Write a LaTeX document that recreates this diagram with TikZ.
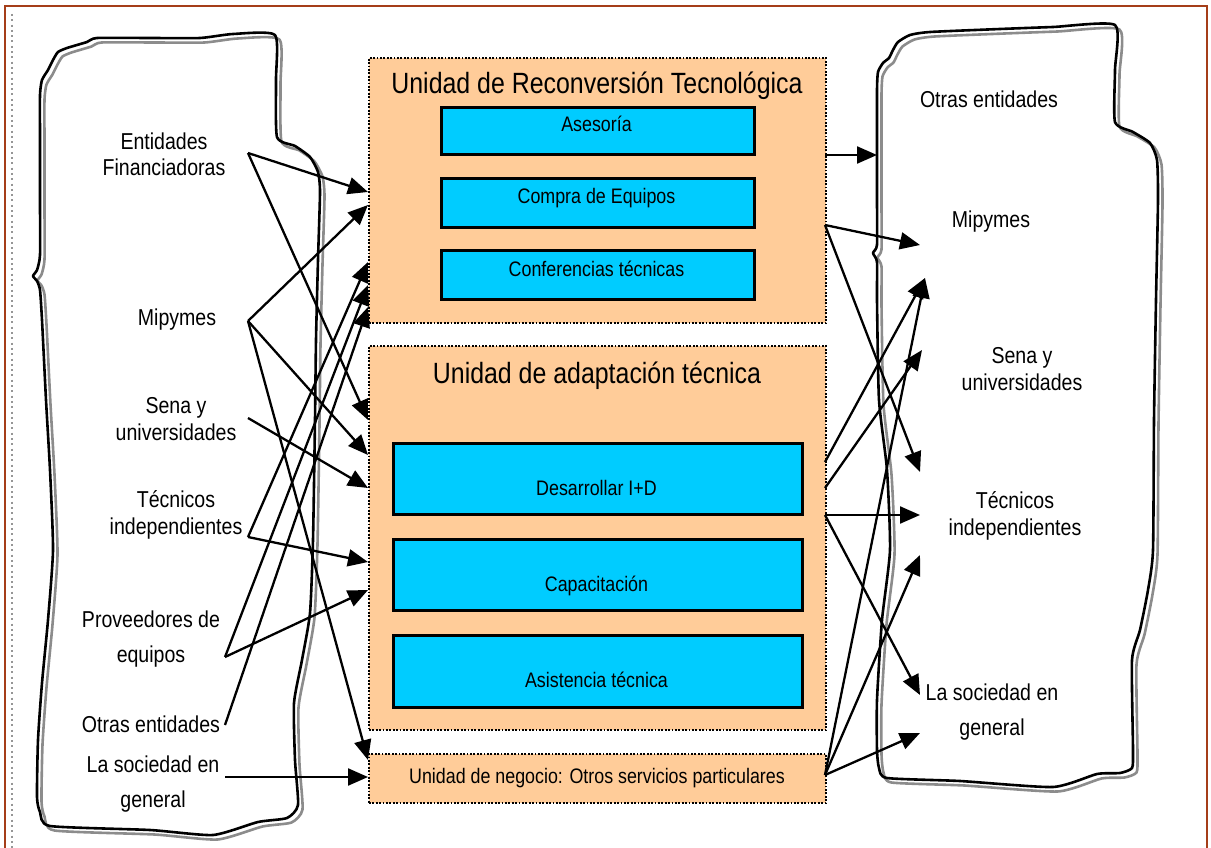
\documentclass[tikz,border=0pt]{standalone}
\usepackage{fontspec}
\setmainfont{Liberation Sans}[FakeStretch=0.85]
\usetikzlibrary{arrows.meta}
\definecolor{framebrown}{RGB}{165,62,25}
\definecolor{unitfill}{RGB}{255,204,153}
\definecolor{servblue}{RGB}{0,204,255}
\definecolor{shadowgrey}{RGB}{140,140,140}
\definecolor{dotgrey}{RGB}{150,150,150}
\begin{document}
\begin{tikzpicture}[x=1pt,y=-1pt,
  unit/.style={draw, dash pattern=on 1.8pt off 1.6pt, line width=2pt, fill=unitfill,
    inner sep=0pt, anchor=north west},
  serv/.style={draw, line width=2.8pt, fill=servblue, inner sep=0pt, anchor=north west},
  lbl/.style={font=\fontsize{23}{27}\selectfont, align=center, anchor=base, inner sep=0pt},
  lblwide/.style={font=\fontsize{23}{35}\selectfont, align=center, anchor=base, inner sep=0pt},
  small/.style={font=\fontsize{21}{25}\selectfont, anchor=base, inner sep=0pt},
  title/.style={font=\fontsize{29.3}{34}\selectfont, anchor=base, inner sep=0pt},
  flow/.style={line width=2.3pt, -{Triangle[length=20pt,width=17pt]}},
  outline/.style={line width=2.6pt, line join=round}]
\useasboundingbox (0,0) rectangle (1211,848);
\fill[white] (0,0) rectangle (1211,848);

% page frame and dotted margin rule
\draw[framebrown, line width=2.6pt] (5,6) rectangle (1207,852);
\draw[dotgrey, line width=2.2pt, dash pattern=on 2pt off 3.3pt] (12,14) -- (12,848);

% hand-drawn outlines of the two groups of actors (grey shadow, then black)
\foreach \d/\c in {4.5/shadowgrey, 0/black} {
  \draw[outline, draw=\c, shift={(\d,\d)}] plot[smooth cycle, tension=0.35] coordinates {
    (40,95) (42,80) (48,70) (53,60) (58,52) (67,48) (87,42) (97,38) (150,38) (200,38)
    (233,34) (275,35) (276,80) (277,137) (295,146) (310,157) (318,172) (320,192)
    (318,260) (316,340) (315,420) (313,540) (310,613) (302,660) (294,703) (295,760)
    (298,805) (287,818) (258,822) (213,835) (150,830) (50,826) (40,812) (37,797)
    (38,740) (42,683) (48,620) (53,550) (50,470) (46,400) (42,320) (40,290) (37,281)
    (33,276) (37,270) (40,255) (40,200) (40,140)};
  \draw[outline, draw=\c, shift={(\d,\d)}] plot[smooth cycle, tension=0.35] coordinates {
    (877,90) (878,72) (883,63) (889,58) (893,50) (898,42) (910,35) (930,32) (1000,29)
    (1053,27) (1115,25) (1115,70) (1115,122) (1133,132) (1150,143) (1157,160) (1158,200)
    (1156,300) (1154,420) (1153,550) (1148,590) (1140,630) (1132,660) (1133,750)
    (1132,768) (1120,773) (1097,774) (1053,787) (960,781) (887,778) (879,768) (877,750)
    (877,700) (882,620) (890,550) (887,470) (879,400) (877,300) (877,262) (873,253)
    (877,245) (877,200) (877,150)};
}

% units and their services
\node[unit, minimum width=457pt, minimum height=265pt] (urt) at (368,57) {};
\node[title] (urtt) at (597,94) {Unidad de Reconversión Tecnológica};
\node[serv, minimum width=313pt, minimum height=47pt] (ase) at (440,106) {};
\node[small] (aset) at (596.5,132) {Asesoría};
\node[serv, minimum width=313pt, minimum height=49pt] (com) at (440,177) {};
\node[small] (comt) at (596.5,204) {Compra de Equipos};
\node[serv, minimum width=313pt, minimum height=49pt] (con) at (440,249) {};
\node[small] (cont) at (596.5,276) {Conferencias técnicas};

\node[unit, minimum width=457pt, minimum height=384pt] (uat) at (368,345) {};
\node[title] (uatt) at (597,383) {Unidad de adaptación técnica};
\node[serv, minimum width=409pt, minimum height=71pt] (des) at (392,442) {};
\node[small] (dest) at (596.5,495) {Desarrollar I+D};
\node[serv, minimum width=409pt, minimum height=71pt] (cap) at (392,538) {};
\node[small] (capt) at (596.5,591) {Capacitación};
\node[serv, minimum width=409pt, minimum height=72pt] (asi) at (392,634) {};
\node[small] (asit) at (596.5,687) {Asistencia técnica};

\node[unit, minimum width=457pt, minimum height=49pt] (uneg) at (368,753) {};
\node[small] (unegt) at (597,783) {Unidad de negocio: Otros servicios particulares};

% actors on the left (base anchor sits on the last line)
\node[lbl] (lent) at (164,176) {Entidades\\Financiadoras};
\node[lbl] (lmip) at (177,325) {Mipymes};
\node[lbl] (lsen) at (176,440) {Sena y\\universidades};
\node[lbl] (ltec) at (176,534) {Técnicos\\independientes};
\node[lblwide] (lpro) at (151,662) {Proveedores de\\equipos};
\node[lbl] (lotr) at (151,732) {Otras entidades};
\node[lblwide] (lsoc) at (153,807) {La sociedad en\\general};

% actors on the right
\node[lbl] (rotr) at (989,108) {Otras entidades};
\node[lbl] (rmip) at (991,228) {Mipymes};
\node[lbl] (rsen) at (1022,390) {Sena y\\universidades};
\node[lbl] (rtec) at (1015,535) {Técnicos\\independientes};
\node[lblwide] (rsoc) at (992,735) {La sociedad en\\general};

% connector ends
\coordinate (sent) at (248,153);
\coordinate (smip) at (248,321);
\coordinate (ssen) at (248,418);
\coordinate (stec) at (248,537);
\coordinate (spro) at (225,657);
\coordinate (sotr) at (225,725);
\coordinate (ssoc) at (225,777);

\coordinate (a1) at (368,192);
\coordinate (a2) at (368,205);
\coordinate (a3) at (368,262);
\coordinate (a4) at (368,285);
\coordinate (a5) at (368,307);
\coordinate (b1) at (368,420);
\coordinate (b2) at (368,455);
\coordinate (b3) at (368,488);
\coordinate (b4) at (368,562);
\coordinate (b5) at (368,590);
\coordinate (c1) at (368,760);
\coordinate (c2) at (368,777);

\coordinate (o1) at (825,155);
\coordinate (o2) at (825,225);
\coordinate (o3) at (825,462);
\coordinate (o4) at (825,488);
\coordinate (o5) at (825,515);
\coordinate (o6) at (825,775);

\coordinate (tot) at (877,155);
\coordinate (tmip1) at (920,245);
\coordinate (tmip2) at (925,278);
\coordinate (tsen) at (922,350);
\coordinate (ttec1) at (920,472);
\coordinate (ttec2) at (920,515);
\coordinate (ttec3) at (920,555);
\coordinate (tsoc1) at (920,695);
\coordinate (tsoc2) at (920,733);

% inbound flows
\draw[flow] (sent) -- (a1);
\draw[flow] (sent) -- (b1);
\draw[flow] (smip) -- (a2);
\draw[flow] (smip) -- (b2);
\draw[flow] (smip) -- (c1);
\draw[flow] (ssen) -- (b3);
\draw[flow] (stec) -- (b4);
\draw[flow] (stec) -- (a3);
\draw[flow] (spro) -- (b5);
\draw[flow] (spro) -- (a4);
\draw[flow] (sotr) -- (a5);
\draw[flow] (ssoc) -- (c2);

% outbound flows
\draw[flow] (o1) -- (tot);
\draw[flow] (o2) -- (tmip1);
\draw[flow] (o2) -- (ttec1);
\draw[flow] (o3) -- (tmip2);
\draw[flow] (o4) -- (tsen);
\draw[flow] (o5) -- (ttec2);
\draw[flow] (o5) -- (tsoc1);
\draw[flow] (o6) -- (tmip2);
\draw[flow] (o6) -- (ttec3);
\draw[flow] (o6) -- (tsoc2);
\end{tikzpicture}
\end{document}
